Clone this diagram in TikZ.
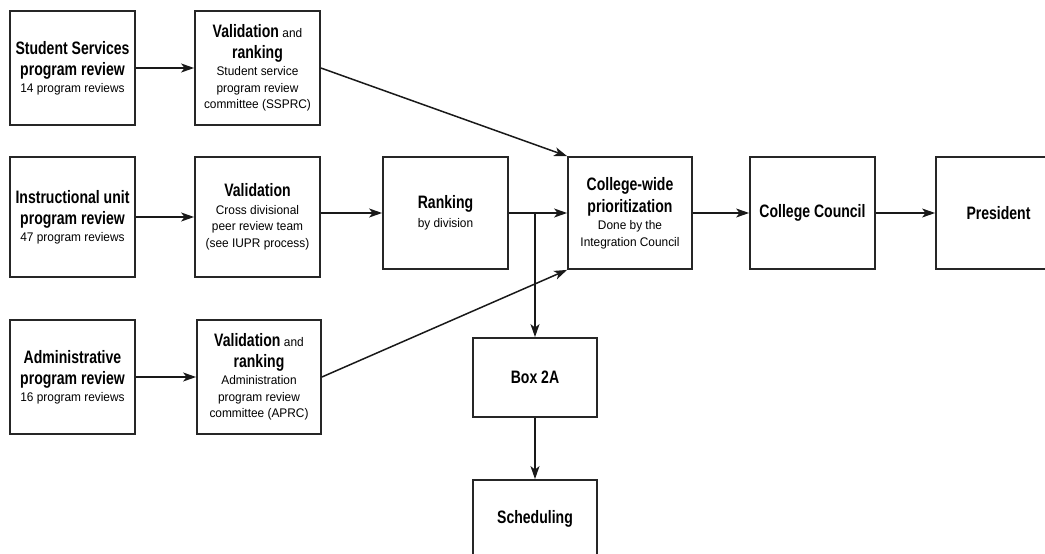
\documentclass[tikz,border=0pt]{standalone}
\usepackage{fontspec}
\setmainfont{Liberation Sans}
\newfontfamily\tfont{Liberation Sans}[FakeStretch=0.78]
\newfontfamily\sfont{Liberation Sans}[FakeStretch=0.95]
\usetikzlibrary{arrows.meta}
\newcommand\hdtext[1]{{\tfont\bfseries\fontsize{18}{21}\selectfont #1}}
\newcommand\sbtext[1]{{\sfont\fontsize{12.5}{17}\selectfont #1}}
\begin{document}
\begin{tikzpicture}[x=1pt,y=-1pt,
  box/.style={draw=black!85,line width=1.8pt,rectangle,inner sep=0pt,align=center,minimum width=125pt,
    font=\fontsize{12.5}{16.5}\selectfont},
  arr/.style={-{Stealth[length=13pt,width=9pt,inset=3.5pt]},line width=1.5pt,draw=black!90},
  thinarr/.style={arr,line width=1.1pt}]
\useasboundingbox (0,0) rectangle (1045,554);
\node[box,minimum height=114pt] (ss) at (72.5,68)
  {\hdtext{Student Services}\\[5pt]\hdtext{program review}\\\sbtext{14 program reviews}};
\node[box,minimum height=114pt] (v1) at (257.5,68)
  {\hdtext{Validation} \sbtext{and}\\[4pt]\hdtext{ranking}\\[1pt]\sbtext{Student service}\\\sbtext{program review}\\\sbtext{committee (SSPRC)}};
\node[box,minimum height=120pt] (iu) at (72.5,217)
  {\hdtext{Instructional unit}\\[5pt]\hdtext{program review}\\\sbtext{47 program reviews}};
\node[box,minimum height=120pt] (v2) at (257.5,217)
  {\hdtext{Validation}\\[1pt]\sbtext{Cross divisional}\\\sbtext{peer review team}\\\sbtext{(see IUPR process)}};
\node[box,minimum height=114pt] (ad) at (72.5,377)
  {\hdtext{Administrative}\\[5pt]\hdtext{program review}\\\sbtext{16 program reviews}};
\node[box,minimum height=114pt,minimum width=124pt] (v3) at (259,377)
  {\hdtext{Validation} \sbtext{and}\\[4pt]\hdtext{ranking}\\[1pt]\sbtext{Administration}\\\sbtext{program review}\\\sbtext{committee (APRC)}};
\node[box,minimum height=112pt] (rk) at (445.5,213)
  {\hdtext{Ranking}\\[2pt]\sbtext{by division}};
\node[box,minimum height=112pt,minimum width=124pt] (cw) at (630,213)
  {\hdtext{College-wide}\\[4pt]\hdtext{prioritization}\\[1pt]\sbtext{Done by the}\\\sbtext{Integration Council}};
\node[box,minimum height=112pt] (cc) at (812.5,213) {\hdtext{College Council}};
\node[box,minimum height=112pt] (pr) at (998.5,213) {\hdtext{President}};
\node[box,minimum height=79pt,minimum width=124pt] (b2a) at (535,377.5) {\hdtext{Box 2A}};
\node[box,minimum height=78pt,minimum width=124pt] (sch) at (535,519) {\hdtext{Scheduling}};
\draw[arr] (ss.east) -- (v1.west);
\draw[arr] (iu.east) -- (v2.west);
\draw[arr] (ad.east) -- (v3.west);
\draw[arr] (v1.east) -- (cw.north west);
\draw[arr] (v3.east) -- (cw.south west);
\draw[arr] (v2.east |- rk.west) -- (rk.west);
\draw[arr] (rk.east) -- (cw.west);
\coordinate (br) at (rk.east -| b2a.north);
\draw[arr] (br) -- (b2a.north);
\draw[thinarr] (cw.east) -- (cc.west);
\draw[thinarr] (cc.east) -- (pr.west);
\draw[arr] (b2a.south) -- (sch.north);
\end{tikzpicture}
\end{document}
